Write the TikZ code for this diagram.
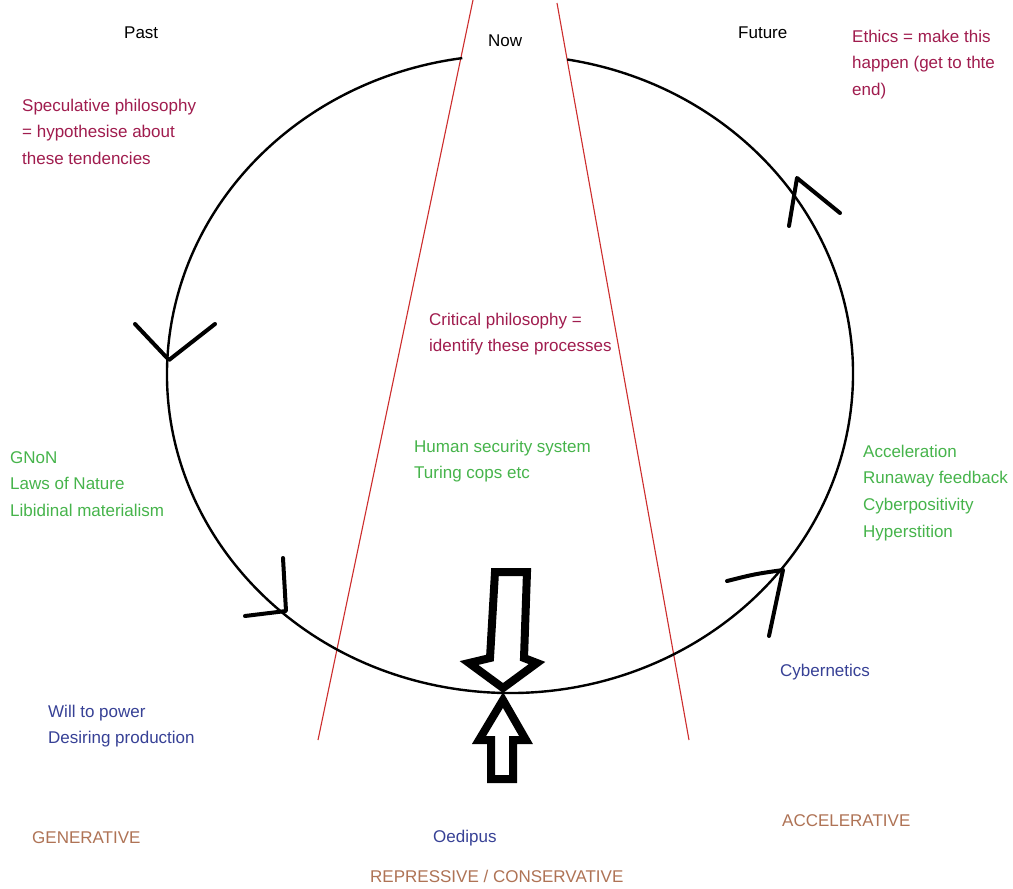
\documentclass[tikz,border=0pt]{standalone}
\usepackage{fontspec}
\setmainfont{Liberation Sans}
\definecolor{maroonT}{RGB}{160,28,78}
\definecolor{greenT}{RGB}{70,180,75}
\definecolor{blueT}{RGB}{55,65,150}
\definecolor{brownT}{RGB}{175,115,85}
\definecolor{redL}{RGB}{205,45,45}
\begin{document}
\begin{tikzpicture}[x=1pt,y=-1pt,
  txt/.style={anchor=base west, inner sep=0pt, align=left, font=\fontsize{17}{26.7}\selectfont},
  cycle line/.style={line width=2.4pt, black},
  head/.style={line width=4pt, black, line cap=round, line join=round},
  hollow/.style={line width=8pt, black, fill=white, line join=miter},
  divider/.style={line width=1.1pt, redL}]
\useasboundingbox[fill=white] (0,0) rectangle (1013,889);

% red dividing lines
\coordinate (l1) at (473,0);
\coordinate (l2) at (318,740);
\coordinate (r1) at (557,3);
\coordinate (r2) at (689,740);
\draw[divider] (l1) -- (l2);
\draw[divider] (r1) -- (r2);

% the cycle (ellipse with a gap at the top)
\draw[cycle line] (510,374) ++(279.6:343 and 319) arc[start angle=279.6, end angle=622, x radius=343, y radius=319];

% arrowheads on the cycle
\draw[head] (135,324) -- (169,360) -- (215,324);
\draw[head] (283,558) -- (286,611) -- (245,616);
\draw[head] (727,581) .. controls (755,574) .. (783,570) -- (769,636);
\draw[head] (789,226) -- (797,178) -- (840,213);

% big hollow arrows
\draw[hollow] (495,572) -- (527,572) -- (524,658) -- (537,663) -- (503,688) -- (469,663) -- (490,658) -- cycle;
\draw[hollow] (503,700) -- (526,740) -- (513,740) -- (513,779) -- (491,779) -- (491,740) -- (479,740) -- cycle;

% texts (base anchor = baseline of the last line)
\node[txt] (past) at (124,38) {Past};
\node[txt] (now) at (488,46) {Now};
\node[txt] (future) at (738,38) {Future};
\node[txt, text=maroonT] (ethics) at (852,95.4) {Ethics = make this\\happen (get to thte\\end)};
\node[txt, text=maroonT] (spec) at (22,164.4) {Speculative philosophy\\= hypothesise about\\these tendencies};
\node[txt, text=maroonT] (crit) at (429,351.7) {Critical philosophy =\\identify these processes};
\node[txt, text=greenT] (human) at (414,478.7) {Human security system\\Turing cops etc};
\node[txt, text=greenT] (gnon) at (10,516.4) {GNoN\\Laws of Nature\\Libidinal materialism};
\node[txt, text=greenT] (accel) at (863,537.1) {Acceleration\\Runaway feedback\\Cyberpositivity\\Hyperstition};
\node[txt, text=blueT] (cyber) at (780,676) {Cybernetics};
\node[txt, text=blueT] (will) at (48,743.7) {Will to power\\Desiring production};
\node[txt, text=brownT] (gen) at (32,843) {GENERATIVE};
\node[txt, text=blueT] (oed) at (433,842) {Oedipus};
\node[txt, text=brownT] (repr) at (370,882) {REPRESSIVE / CONSERVATIVE};
\node[txt, text=brownT] (accr) at (782,826) {ACCELERATIVE};
\end{tikzpicture}
\end{document}
